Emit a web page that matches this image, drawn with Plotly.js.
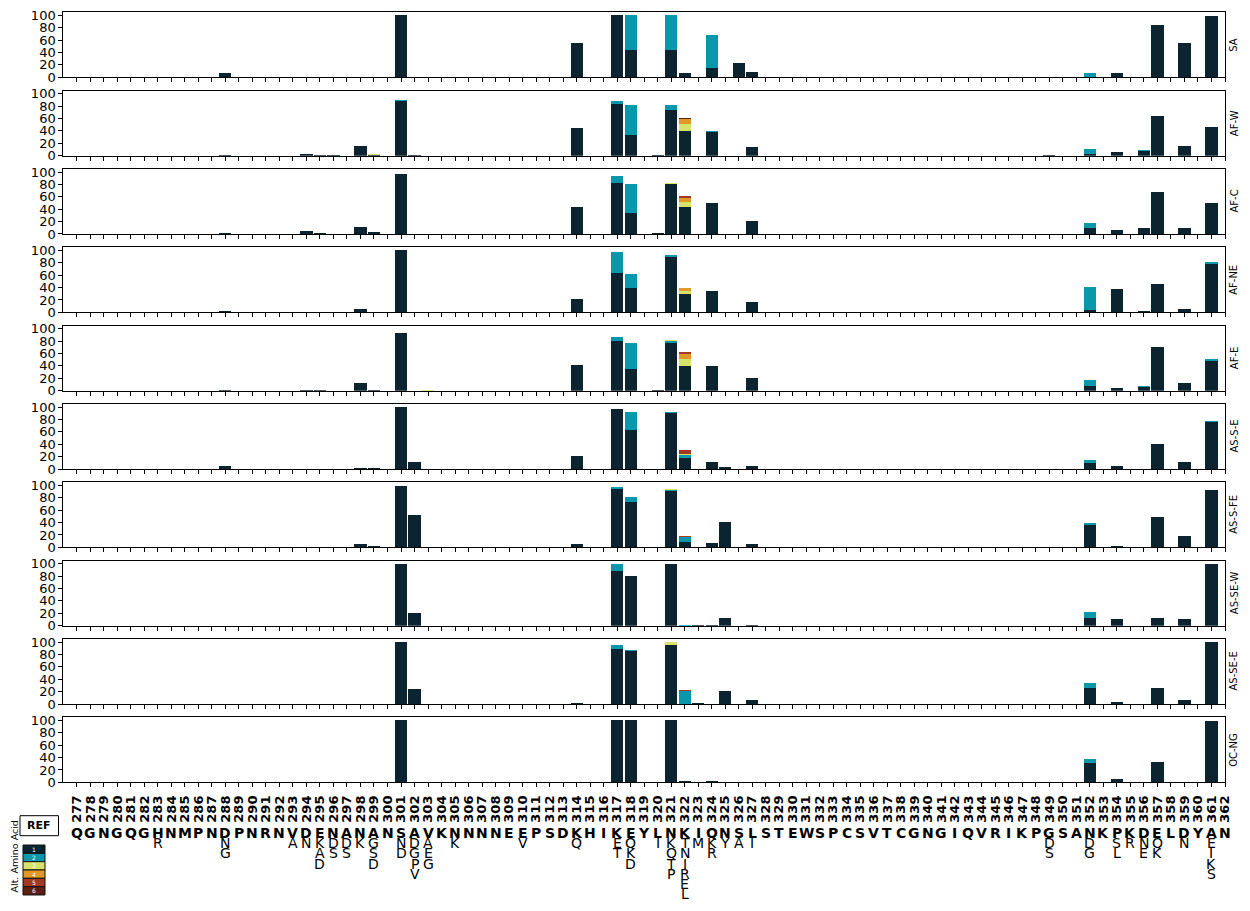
<!DOCTYPE html>
<html><head><meta charset="utf-8">
<script src="https://cdn.plot.ly/plotly-3.0.1.min.js"></script>
<style>html,body{margin:0;padding:0;background:#fff}#chart{width:1250px;height:911px}</style>
</head><body><div id="chart"></div>
<script>
// ---------- DATA ----------
const positions = [277,278,279,280,281,282,283,284,285,286,287,288,289,290,291,292,293,294,295,296,297,298,299,300,301,302,303,304,305,306,307,308,309,310,311,312,313,314,315,316,317,318,319,320,321,322,323,324,325,326,327,328,329,330,331,332,333,334,335,336,337,338,339,340,341,342,343,344,345,346,347,348,349,350,351,352,353,354,355,356,357,358,359,360,361,362];
const refAA = ['Q','G','N','G','Q','G','H','N','M','P','N','D','P','N','R','N','V','D','E','N','A','N','A','N','S','A','V','K','N','N','N','N','E','E','P','S','D','K','H','I','K','E','Y','L','N','K','I','Q','N','S','L','S','T','E','W','S','P','C','S','V','T','C','G','N','G','I','Q','V','R','I','K','P','G','S','A','N','K','P','K','D','E','L','D','Y','A','N'];
const altPos = [283, 288, 293, 294, 295, 296, 297, 298, 299, 301, 302, 303, 305, 310, 314, 317, 318, 320, 321, 322, 323, 324, 325, 326, 327, 349, 352, 354, 355, 356, 357, 359, 361];
const altAA  = [['R'],['N','G'],['A'],['N'],['K','A','D'],['D','S'],['D','S'],['K'],['G','S','D'],['N','D'],['D','G','P','V'],['A','E','G'],['K'],['V'],['Q'],['E','T'],['Q','K','D'],['I'],['K','Q','T','P'],['T','N','I','R','E','L'],['M'],['K','R'],['Y'],['A'],['I'],['D','S'],['D','G'],['S','L'],['R'],['N','E'],['Q','K'],['N'],['E','I','K','S']];
const panelNames = ['SA','AF-W','AF-C','AF-NE','AF-E','AS-S-E','AS-S-FE','AS-SE-W','AS-SE-E','OC-NG'];
const levelNames = ['1','2','3','4','5','6'];
const levelColors = ['#0c2430','#0897ab','#d6e26a','#e09828','#a03a22','#5c2010'];
const yTicks = [0,20,40,60,80,100];

// rows: [position, alt1, alt2, alt3, alt4, alt5, alt6] (percent)
const SA = [[288,7],[301,100],[314,55],[317,100],[318,44,56],[321,44,56],[322,7],[324,15,54],[326,23],[327,8],[352,0,7],[354,7],[357,84],[359,56],[361,99]];
const AF_W = [[288,1.5],[294,3],[295,1.5],[296,1.5],[298,16],[299,0.8,0,1.8],[301,88,2],[302,1,0.6],[314,45],[317,83,5],[318,34,48],[320,1.5],[321,74,8],[322,40,0,11,8,0.8,0.8],[324,38,1.5],[327,14],[349,1],[352,3,8],[354,6],[356,8,1.5],[357,64],[359,16],[361,47]];
const AF_C = [[288,1.5],[294,5],[295,2],[298,12],[299,4],[301,97],[314,44],[317,83,10],[318,34,47],[320,1.5],[321,81,0,1.5],[322,44,0,8,6.5,3],[324,50],[327,21],[352,9,9],[354,7],[356,9],[357,68],[359,10],[361,50]];
const AF_NE = [[288,1.5],[298,5],[301,100],[314,21],[317,63,34],[318,39,23],[321,89,3],[322,29,0,5,5],[324,34],[327,16],[352,4,37],[354,38],[356,2],[357,46],[359,5],[361,78,3]];
const AF_E = [[288,1.5],[294,1.5],[295,1.5],[298,13],[299,1.5],[301,93],[303,0,0,1],[314,42],[317,80,7],[318,35,42],[320,1.5],[321,77,3,2],[322,40,0,11,8,3],[324,40],[327,21],[352,8,10],[354,5],[356,6,2],[357,71],[359,13],[361,48,3]];
const AS_S_E = [[288,5],[298,1.5],[299,1.5],[301,100],[302,12],[314,21],[317,97],[318,63,29],[321,91,1.5],[322,18,5,1.5,0,6.5],[324,11],[325,3],[327,5],[352,9,5],[354,5],[357,41],[359,12],[361,76,2]];
const AS_S_FE = [[298,5],[299,1.5],[301,98.5],[302,52],[314,5],[317,94,3],[318,73,8],[321,91,1.5,1.5],[322,8,8,0,0,1.7],[324,6.5],[325,41],[327,5],[352,36,3],[354,1.5],[357,49],[359,18],[361,93]];
const AS_SE_W = [[301,100],[302,21],[317,89,10],[318,80],[321,99,0,1],[322,0,1.5],[323,1.5],[324,1.5],[325,13],[327,1.5],[352,13,9.5],[354,11],[357,13],[359,11],[361,100]];
const AS_SE_E = [[301,100],[302,25],[314,1.5],[317,89,6.5],[318,86,1.5],[321,96,0,4.5],[322,0,21,0,0,1.7],[323,1.5],[325,21],[327,6.5],[352,26,8],[354,4],[357,26],[359,7],[361,100]];
const OC_NG = [[301,100],[317,100],[318,100],[321,100],[322,1.5],[324,1.5],[352,31,6.5],[354,5],[357,33],[361,99]];
const panelData = [SA, AF_W, AF_C, AF_NE, AF_E, AS_S_E, AS_S_FE, AS_SE_W, AS_SE_E, OC_NG];

// ---------- LAYOUT GEOMETRY (pixels) ----------
const W = 1250, H = 911;
const px = x => x / W;
const py = y => 1 - y / H;
const L = 63.3, R = 1225;
const TOP0 = 12.3, STEP = 78.34, PH = 65;
const FONT = 'DejaVu Sans';

const traces = [];
const annotations = [];
const shapes = [];
const layout = {
  width: W, height: H,
  margin: {l: 0, r: 0, t: 0, b: 0, pad: 0},
  paper_bgcolor: '#fff', plot_bgcolor: '#fff',
  barmode: 'stack',
  showlegend: false,
  font: {family: FONT, color: '#000'},
  annotations, shapes
};

panelData.forEach((rows, p) => {
  const ax = p === 0 ? '' : String(p + 1);
  const top = TOP0 + p * STEP;
  const last = p === panelData.length - 1;
  layout['xaxis' + ax] = {
    domain: [px(L), px(R)], range: [276, 362], anchor: 'y' + ax,
    tickmode: 'array', tickvals: positions, ticktext: positions.map(String),
    showticklabels: last, tickangle: -90, ticklabelstandoff: 3,
    tickfont: {family: FONT, size: 13, color: '#000', weight: 'bold'},
    ticks: 'outside', ticklen: 4, tickwidth: 1, tickcolor: '#000',
    showline: true, linecolor: '#000', linewidth: 1, mirror: true,
    showgrid: false, zeroline: false, fixedrange: true
  };
  layout['yaxis' + ax] = {
    domain: [py(top + PH), py(top)], range: [0, 105], anchor: 'x' + ax,
    tickmode: 'array', tickvals: yTicks, ticktext: yTicks.map(String),
    tickfont: {family: FONT, size: 13, color: '#000'},
    ticks: 'outside', ticklen: 4, tickwidth: 1, tickcolor: '#000',
    showline: true, linecolor: '#000', linewidth: 1, mirror: true,
    showgrid: false, zeroline: false, fixedrange: true
  };
  levelColors.forEach((col, k) => {
    const x = [], y = [];
    rows.forEach(r => { const v = r[k + 1] || 0; if (v > 0) { x.push(r[0]); y.push(v); } });
    traces.push({
      type: 'bar', x, y, xaxis: 'x' + ax, yaxis: 'y' + ax, width: 0.9,
      name: levelNames[k], marker: {color: col, line: {width: 0}},
      showlegend: false, hoverinfo: 'skip'
    });
  });
  annotations.push({
    xref: 'paper', yref: 'paper', x: px(1234), y: py(top + PH / 2),
    text: panelNames[p], textangle: -90, showarrow: false,
    font: {family: FONT, size: 10, color: '#000'}, xanchor: 'center', yanchor: 'middle'
  });
});

// reference amino acids row and alternatives below
const lastX = 'x' + panelData.length;
const REF_Y = 833, ALT_Y0 = 843.3, ALT_STEP = 10.1;
positions.forEach((pos, i) => {
  annotations.push({
    xref: lastX, yref: 'paper', x: pos, y: py(REF_Y), text: refAA[i], showarrow: false,
    font: {family: FONT, size: 14, color: '#000', weight: 'bold'}, xanchor: 'center', yanchor: 'middle'
  });
});
altPos.forEach((pos, i) => {
  altAA[i].forEach((aa, j) => {
    annotations.push({
      xref: lastX, yref: 'paper', x: pos, y: py(ALT_Y0 + j * ALT_STEP), text: aa, showarrow: false,
      font: {family: FONT, size: 14, color: '#000'}, xanchor: 'center', yanchor: 'middle'
    });
  });
});

// legend: REF box
shapes.push({type: 'rect', xref: 'paper', yref: 'paper', x0: px(20), x1: px(58.5), y0: py(835.7), y1: py(815.7),
  line: {color: '#000', width: 1}, fillcolor: '#fff'});
annotations.push({xref: 'paper', yref: 'paper', x: px(39.2), y: py(825.7), text: 'REF', showarrow: false,
  font: {family: FONT, size: 11, color: '#000', weight: 'bold'}, xanchor: 'center', yanchor: 'middle'});
annotations.push({xref: 'paper', yref: 'paper', x: px(14), y: py(856.5), text: 'Alt. Amino Acid', showarrow: false,
  textangle: -90, font: {family: FONT, size: 9.5, color: '#000'}, xanchor: 'center', yanchor: 'middle'});
const BOX_TOP = 845, BOX_H = 8.33;
levelColors.forEach((col, k) => {
  const y0 = BOX_TOP + k * BOX_H;
  shapes.push({type: 'rect', xref: 'paper', yref: 'paper', x0: px(23), x1: px(45), y0: py(y0 + BOX_H), y1: py(y0),
    line: {color: '#111', width: 1}, fillcolor: col});
  annotations.push({xref: 'paper', yref: 'paper', x: px(34), y: py(y0 + BOX_H / 2), text: levelNames[k], showarrow: false,
    font: {family: FONT, size: 6, color: '#fff'}, xanchor: 'center', yanchor: 'middle'});
});

Plotly.newPlot('chart', traces, layout, {staticPlot: true, displayModeBar: false});
</script>
</body></html>
